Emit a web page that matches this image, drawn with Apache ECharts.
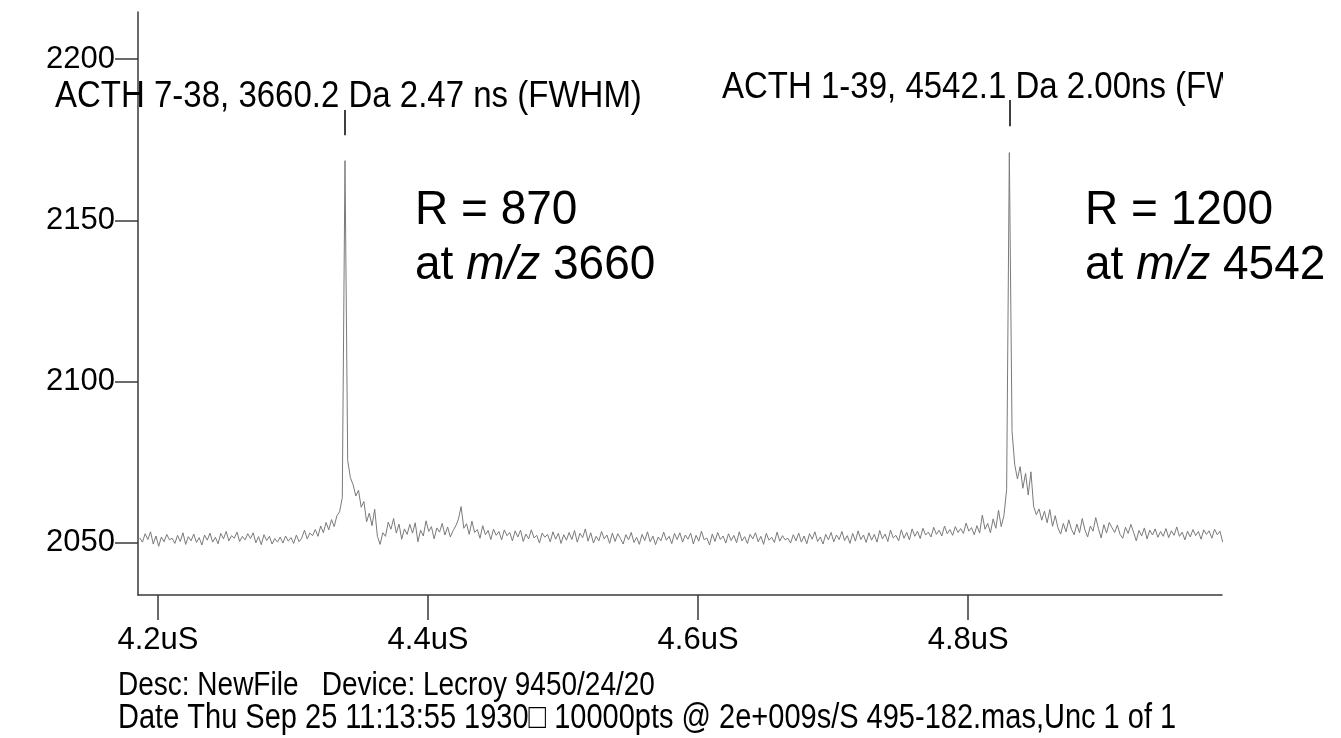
<!DOCTYPE html>
<html>
<head>
    <meta charset="utf-8">
    <title>ACTH TOF spectrum</title>
    <script src="https://cdn.jsdelivr.net/npm/echarts@6.0.0/dist/echarts.min.js"></script>
    <style>
        html, body {
            margin: 0;
            padding: 0;
            background: #fff;
        }

        #chart {
            width: 1341px;
            height: 738px;
        }
    </style>
</head>
<body>
<div id="chart"></div>
<script>
    // oscilloscope trace (one sample every 2 ns)
    var tStart = 4.1865;
    var tStep = 0.002;
    var signal = [
        2051.5, 2050.2, 2052.8, 2051.0, 2053.4, 2049.6, 2052.1, 2048.9, 2051.8, 2050.3, 2052.6, 2050.9, 2051.4, 2049.8, 2052.3, 2050.4, 2053.1, 2049.5, 2051.9, 2050.6,
        2052.7, 2050.1, 2051.6, 2049.3, 2052.4, 2050.8, 2053.0, 2050.2, 2051.7, 2049.7, 2052.9, 2051.2, 2053.5, 2050.6, 2052.2, 2051.4, 2053.3, 2050.4, 2052.0, 2050.9,
        2052.8, 2051.3, 2053.1, 2050.0, 2051.9, 2049.4, 2052.5, 2050.7, 2052.0, 2049.6, 2051.3, 2050.2, 2051.8, 2049.9, 2052.1, 2050.5, 2051.6, 2049.8, 2052.4, 2050.3,
        2051.5, 2053.9, 2051.2, 2053.0, 2052.2, 2054.1, 2052.0, 2055.2, 2053.1, 2056.3, 2054.0, 2057.2, 2055.0, 2058.4, 2059.6, 2064.0, 2168.5, 2075.5, 2070.2, 2068.0,
        2064.5, 2066.3, 2061.0, 2062.8, 2056.5, 2059.2, 2055.3, 2060.4, 2052.0, 2049.5, 2053.1, 2052.0, 2056.4, 2054.2, 2057.5, 2053.0, 2055.8, 2051.1, 2054.3, 2052.6,
        2055.7, 2053.0, 2056.2, 2050.3, 2053.9, 2052.1, 2056.8, 2053.5, 2055.0, 2051.2, 2054.6, 2053.3, 2056.0, 2052.4, 2054.9, 2051.8, 2053.7, 2055.2, 2057.3, 2061.2,
        2054.5, 2055.9, 2052.6, 2056.7, 2053.2, 2054.1, 2051.4, 2055.3, 2052.5, 2053.8, 2051.0, 2054.2, 2052.3, 2053.5, 2050.9, 2054.0, 2052.2, 2053.2, 2050.6, 2053.7,
        2051.8, 2053.9, 2050.4, 2052.7, 2051.2, 2054.0, 2051.5, 2052.3, 2049.9, 2053.0, 2051.7, 2052.6, 2050.3, 2053.4, 2051.1, 2052.9, 2049.8, 2052.5, 2050.8, 2053.2,
        2051.0, 2053.8, 2050.2, 2052.9, 2051.6, 2054.3, 2050.5, 2053.1, 2049.9, 2052.0, 2050.6, 2053.5, 2051.2, 2052.4, 2049.8, 2053.0, 2050.4, 2052.8, 2051.3, 2049.6,
        2052.5, 2050.9, 2053.2, 2050.1, 2051.7, 2049.5, 2052.6, 2050.7, 2053.4, 2050.3, 2052.1, 2049.4, 2051.8, 2050.6, 2053.3, 2050.8, 2052.0, 2049.7, 2052.9, 2051.0,
        2053.1, 2050.2, 2052.4, 2051.1, 2053.0, 2049.6, 2052.3, 2050.5, 2053.6, 2050.9, 2051.5, 2049.3, 2052.7, 2050.4, 2053.2, 2051.0, 2052.1, 2049.9, 2052.8, 2050.7,
        2052.3, 2050.0, 2053.4, 2050.6, 2051.9, 2049.8, 2052.6, 2051.2, 2053.1, 2050.3, 2052.0, 2049.5, 2052.9, 2050.8, 2051.7, 2050.1, 2053.3, 2050.5, 2052.2, 2050.9,
        2051.4, 2049.9, 2052.5, 2050.6, 2053.0, 2050.2, 2052.1, 2049.7, 2052.8, 2051.1, 2053.4, 2050.4, 2051.8, 2049.6, 2052.6, 2050.9, 2053.2, 2050.3, 2052.4, 2051.0,
        2053.5, 2050.7, 2052.2, 2049.8, 2052.9, 2050.5, 2053.7, 2051.0, 2052.4, 2050.1, 2053.1, 2050.8, 2052.6, 2050.2, 2053.8, 2051.2, 2052.7, 2050.4, 2053.9, 2051.5,
        2052.3, 2050.6, 2054.0, 2051.4, 2053.2, 2050.9, 2054.3, 2052.0, 2053.6, 2051.3, 2054.5, 2052.4, 2053.3, 2051.8, 2054.8, 2052.6, 2053.9, 2052.1, 2055.2, 2052.8,
        2054.1, 2052.3, 2055.0, 2053.2, 2054.4, 2052.9, 2056.1, 2053.6, 2054.7, 2052.5, 2055.3, 2053.0, 2058.6, 2054.2, 2056.0, 2053.1, 2057.4, 2054.5, 2060.1, 2055.0,
        2058.4, 2066.5, 2171.0, 2084.5, 2074.2, 2069.8, 2073.6, 2066.9, 2071.5, 2064.8, 2072.0, 2061.3, 2058.7, 2060.5, 2057.0, 2059.8, 2056.2, 2060.3, 2055.1, 2058.4,
        2054.6, 2052.7, 2056.0, 2053.4, 2057.1, 2054.2, 2052.5, 2055.8, 2053.1, 2057.5, 2054.0, 2051.8, 2055.2, 2053.6, 2057.8, 2054.4, 2051.5, 2055.6, 2053.0, 2056.3,
        2054.7, 2053.2, 2055.5, 2052.6, 2051.4, 2054.8, 2052.9, 2055.7, 2053.3, 2050.6, 2053.8, 2052.1, 2054.6, 2051.2, 2053.9, 2052.4, 2054.3, 2051.7, 2053.5, 2052.0,
        2054.4, 2051.6, 2053.7, 2052.3, 2054.9, 2052.0, 2053.3, 2050.9, 2053.6, 2051.8, 2054.1, 2052.2, 2053.5, 2051.1, 2054.0, 2052.6, 2053.7, 2051.4, 2054.2, 2052.5,
        2053.6, 2050.2
    ];

    // peak markers: time (uS) and the short tick drawn above each peak
    var peakTimes = [4.3385, 4.8305];
    var peakMarkLow = [2176.4, 2179.2];
    var peakMarkHigh = [2184.2, 2187.3];

    var xTicks = [4.2, 4.4, 4.6, 4.8];
    var yTicks = [2050, 2100, 2150, 2200];

    var font = 'Liberation Sans, Arial, sans-serif';

    var traceData = [];
    for (var i = 0; i < signal.length; i++) {
        traceData.push([tStart + i * tStep, signal[i]]);
    }

    var markSegments = [];
    for (var j = 0; j < peakTimes.length; j++) {
        markSegments.push([
            {coord: [peakTimes[j], peakMarkLow[j]]},
            {coord: [peakTimes[j], peakMarkHigh[j]]}
        ]);
    }

    // left-aligned text, vertically centred on y, a little taller than wide like the scan
    function label(x, y, text, size, stretch, extra) {
        var style = {
            text: text,
            font: size + 'px ' + font,
            fill: '#000',
            textAlign: 'left',
            textVerticalAlign: 'middle'
        };
        if (extra) {
            for (var k in extra) style[k] = extra[k];
        }
        return {type: 'text', x: x, y: y, scaleY: stretch, style: style, z: 10};
    }

    var italic = {i: {fontStyle: 'italic', fontSize: 46, fontFamily: font}};

    var chart = echarts.init(document.getElementById('chart'));

    var option = {
        animation: false,
        backgroundColor: '#fff',
        grid: {
            left: 138,
            right: 119,
            top: 12,
            bottom: 143
        },
        xAxis: {
            type: 'value',
            min: 4.1852,
            max: 4.988,
            axisLine: {lineStyle: {color: '#3a3a3a', width: 1.5}},
            axisTick: {
                customValues: xTicks,
                length: 25,
                lineStyle: {color: '#3a3a3a', width: 1.5}
            },
            axisLabel: {
                customValues: xTicks,
                margin: 30,
                color: '#000',
                fontSize: 31,
                fontFamily: font,
                formatter: function (v) {
                    return v.toFixed(1) + 'uS';
                }
            },
            splitLine: {show: false}
        },
        yAxis: {
            type: 'value',
            min: 2033.8,
            max: 2214.6,
            axisLine: {show: true, lineStyle: {color: '#3a3a3a', width: 1.5}},
            axisTick: {
                show: true,
                customValues: yTicks,
                length: 23,
                lineStyle: {color: '#3a3a3a', width: 1.5}
            },
            axisLabel: {
                customValues: yTicks,
                margin: 23,
                color: '#000',
                fontSize: 31,
                fontFamily: font,
                formatter: function (v) {
                    return String(v);
                }
            },
            splitLine: {show: false}
        },
        series: [{
            type: 'line',
            data: traceData,
            showSymbol: false,
            symbol: 'none',
            sampling: false,
            lineStyle: {color: '#7a7a7a', width: 1},
            markLine: {
                silent: true,
                symbol: 'none',
                label: {show: false},
                lineStyle: {color: '#000', width: 1.5, type: 'solid'},
                data: markSegments
            }
        }],
        graphic: [
            label(55, 97, 'ACTH 7-38, 3660.2 Da 2.47 ns (FWHM)', 33, 1.12),
            label(722, 88, 'ACTH 1-39, 4542.1 Da 2.00ns (FWHM)', 33, 1.12),
            // the scan cuts the second label off at the plot edge
            {type: 'rect', shape: {x: 1223, y: 60, width: 118, height: 50}, style: {fill: '#fff'}, z: 11},
            label(415, 211, 'R = 870', 46, 1.05),
            label(415, 266, 'at {i|m/z} 3660', 46, 1.05, {rich: italic}),
            label(1085, 211, 'R = 1200', 46, 1.05),
            label(1085, 266, 'at {i|m/z} 4542', 46, 1.05, {rich: italic}),
            label(118, 686, 'Desc: NewFile   Device: Lecroy 9450/24/20', 28, 1.2),
            label(118, 718, 'Date Thu Sep 25 11:13:55 1930\u25A1 10000pts @ 2e+009s/S 495-182.mas,Unc 1 of 1', 29, 1.2)
        ]
    };

    chart.setOption(option);
</script>
</body>
</html>
